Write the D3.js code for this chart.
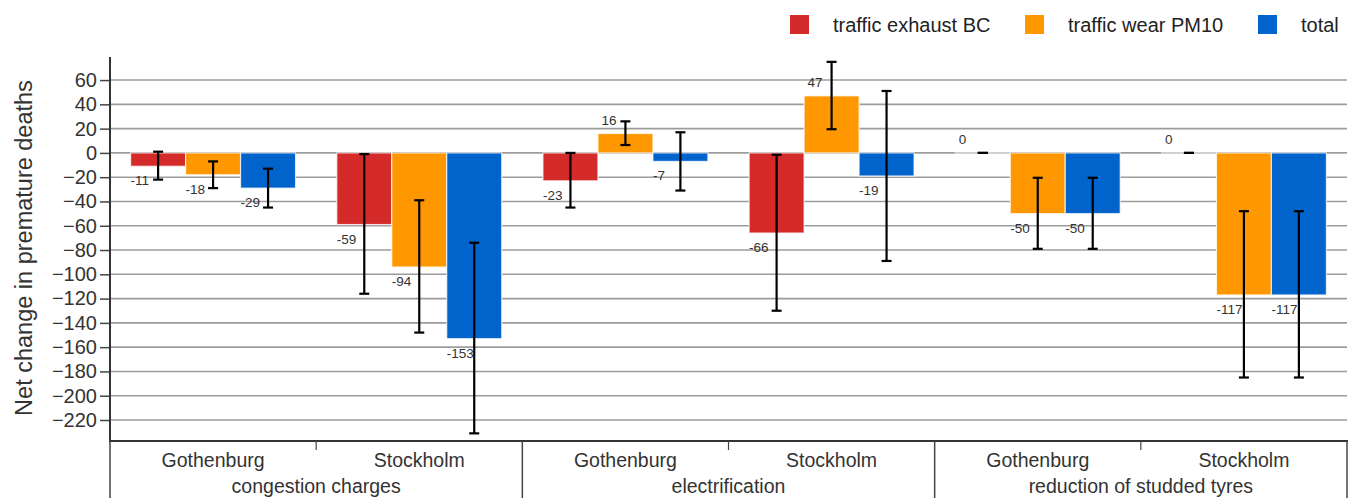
<!DOCTYPE html>
<html>
<head>
<meta charset="utf-8">
<script src="https://cdn.jsdelivr.net/npm/d3@7"></script>
<style>
  html, body { margin: 0; padding: 0; background: #fff; }
  svg { display: block; font-family: "Liberation Sans", Arial, sans-serif; }
</style>
</head>
<body>
<svg id="chart" width="1353" height="498"></svg>
<script>
// Scenario groups and the two cities within each group
const groups = ["congestion charges", "electrification", "reduction of studded tyres"];
const cities = ["Gothenburg", "Stockholm"];
const seriesNames = ["traffic exhaust BC", "traffic wear PM10", "total"];
const seriesColors = ["#d42a2a", "#ff9800", "#0064cc"];

// Net change in premature deaths, one value per group/city (G, S, G, S, G, S)
const exhaustBC = [-11, -59, -23, -66, 0, 0];
const wearPM10  = [-18, -94, 16, 47, -50, -117];
const totalVals = [-29, -153, -7, -19, -50, -117];

// Uncertainty ranges (lower, upper)
const exhaustBCLow  = [-22, -116, -45, -130, 0, 0];
const exhaustBCHigh = [1, -1, 0, -1.5, 0, 0];
const wearPM10Low   = [-29, -148, 6.5, 19.5, -79, -185];
const wearPM10High  = [-7, -39, 26, 75, -20.5, -48];
const totalLow      = [-45, -231, -31, -89, -79, -185];
const totalHigh     = [-13, -74, 17, 51, -20.5, -48];

const yTicks = [60, 40, 20, 0, -20, -40, -60, -80, -100, -120, -140, -160, -180, -200, -220];

const svg = d3.select("#chart");

const plotLeft = 110, plotRight = 1347, plotTop = 57, plotBottom = 441;

// Category keys: one per group/city pair
const catKeys = [];
groups.forEach((g, gi) => cities.forEach((c, ci) => catKeys.push(gi * cities.length + ci)));

const x0 = d3.scaleBand().domain(catKeys).range([plotLeft, plotRight]).paddingInner(0).paddingOuter(0);
const x1 = d3.scaleBand().domain(d3.range(seriesNames.length))
  .range([x0.bandwidth() * 0.1, x0.bandwidth() * 0.9]).padding(0);
const y = d3.scaleLinear().domain([-237.3, 79]).range([plotBottom, plotTop]);

// Horizontal gridlines
svg.append("g").selectAll("line").data(yTicks).join("line")
  .attr("x1", plotLeft).attr("x2", plotRight)
  .attr("y1", d => y(d)).attr("y2", d => y(d))
  .attr("stroke", "#9c9c9c").attr("stroke-width", 1.6);

// Y axis
const yAxis = d3.axisLeft(y).tickValues(yTicks).tickSize(10).tickPadding(3);
const gy = svg.append("g").attr("transform", `translate(${plotLeft},0)`).call(yAxis);
gy.select(".domain").remove();
gy.selectAll(".tick line").attr("stroke", "#444").attr("stroke-width", 1.5);
gy.selectAll(".tick text").attr("font-size", 20).attr("fill", "#333")
  .attr("font-family", "Liberation Sans, Arial, sans-serif");
svg.append("line").attr("x1", plotLeft).attr("x2", plotLeft)
  .attr("y1", plotTop).attr("y2", plotBottom)
  .attr("stroke", "#333").attr("stroke-width", 2);

// Flatten series into bar records
const seriesData = [
  { vals: exhaustBC, lo: exhaustBCLow, hi: exhaustBCHigh },
  { vals: wearPM10, lo: wearPM10Low, hi: wearPM10High },
  { vals: totalVals, lo: totalLow, hi: totalHigh }
];
const bars = [];
catKeys.forEach(k => {
  seriesData.forEach((s, si) => {
    bars.push({ cat: k, s: si, v: s.vals[k], lo: s.lo[k], hi: s.hi[k] });
  });
});

const barX = d => x0(d.cat) + x1(d.s);

// Bars (zero-valued bars keep a hairline height so their outline still shows)
svg.append("g").selectAll("rect").data(bars).join("rect")
  .attr("x", barX)
  .attr("width", x1.bandwidth())
  .attr("y", d => y(Math.max(0, d.v)))
  .attr("height", d => Math.max(Math.abs(y(d.v) - y(0)), 0.01))
  .attr("fill", d => seriesColors[d.s])
  .attr("stroke", "#ffffff").attr("stroke-opacity", 0.75).attr("stroke-width", 1.2);

// Error bars
const eb = svg.append("g").selectAll("g").data(bars).join("g")
  .attr("stroke", "#000").attr("stroke-width", 2.2);
const cx = d => barX(d) + x1.bandwidth() / 2;
eb.append("line").attr("x1", cx).attr("x2", cx)
  .attr("y1", d => y(d.hi)).attr("y2", d => y(d.lo));
eb.append("line").attr("x1", d => cx(d) - 5).attr("x2", d => cx(d) + 5)
  .attr("y1", d => y(d.hi)).attr("y2", d => y(d.hi));
eb.append("line").attr("x1", d => cx(d) - 5).attr("x2", d => cx(d) + 5)
  .attr("y1", d => y(d.lo)).attr("y2", d => y(d.lo));

// Value labels
svg.append("g").selectAll("text").data(bars).join("text")
  .attr("x", d => barX(d) + (d.v < 0 ? 0 : 3.5))
  .attr("y", d => d.v < 0 ? y(d.v) + 19 : y(d.v) - 8.5)
  .attr("font-size", 13.5).attr("fill", "#333")
  .text(d => d.v);

// Category axis box
const axisG = svg.append("g").attr("stroke", "#444");
axisG.append("line").attr("x1", plotLeft - 1).attr("x2", plotRight + 1)
  .attr("y1", plotBottom).attr("y2", plotBottom).attr("stroke", "#333").attr("stroke-width", 2);
const groupEdges = d3.range(groups.length + 1).map(i => i === groups.length
  ? x0(catKeys[catKeys.length - 1]) + x0.bandwidth()
  : x0(i * cities.length));
axisG.selectAll(".gsep").data(groupEdges).join("line")
  .attr("x1", d => d).attr("x2", d => d)
  .attr("y1", plotBottom).attr("y2", 498).attr("stroke-width", 1.5);
const minorTicks = d3.range(groups.length).map(i => x0(i * cities.length + 1));
axisG.selectAll(".mt").data(minorTicks).join("line")
  .attr("x1", d => d).attr("x2", d => d)
  .attr("y1", plotBottom).attr("y2", plotBottom + 9).attr("stroke-width", 1.2);

// City labels
svg.append("g").selectAll("text").data(catKeys).join("text")
  .attr("x", k => x0(k) + x0.bandwidth() / 2)
  .attr("y", 467)
  .attr("text-anchor", "middle").attr("font-size", 19.5).attr("fill", "#333")
  .text(k => cities[k % cities.length]);

// Group labels
svg.append("g").selectAll("text").data(groups).join("text")
  .attr("x", (g, i) => (groupEdges[i] + groupEdges[i + 1]) / 2)
  .attr("y", 493)
  .attr("text-anchor", "middle").attr("font-size", 19.5).attr("fill", "#333")
  .text(g => g);

// Y axis title
svg.append("text")
  .attr("transform", `translate(32,${(plotTop + plotBottom) / 2 - 1}) rotate(-90)`)
  .attr("text-anchor", "middle").attr("font-size", 23.5).attr("fill", "#333")
  .text("Net change in premature deaths");

// Legend
const legendX = [790, 1025, 1258];
const lg = svg.append("g").selectAll("g").data(seriesNames).join("g")
  .attr("transform", (d, i) => `translate(${legendX[i]},15)`);
lg.append("rect").attr("width", 19).attr("height", 19).attr("fill", (d, i) => seriesColors[i]);
lg.append("text").attr("x", 43).attr("y", 16.5).attr("font-size", 20).attr("fill", "#222").text(d => d);
</script>
</body>
</html>
